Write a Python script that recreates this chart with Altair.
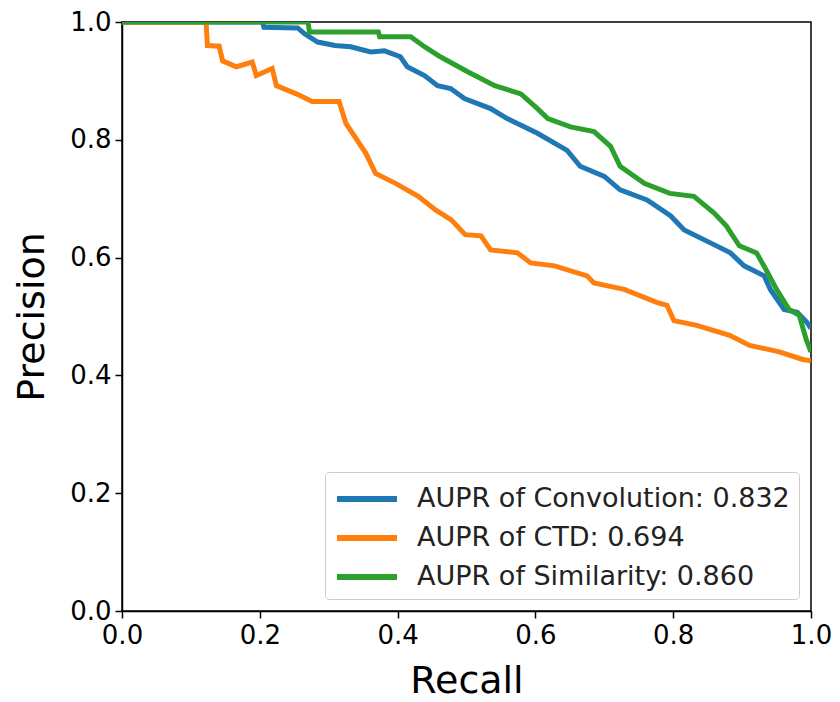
import altair as alt
import pandas as pd

# ---- data ----
series_labels = [
    "AUPR of Convolution: 0.832",
    "AUPR of CTD: 0.694",
    "AUPR of Similarity: 0.860",
]
series_colors = ["#1f77b4", "#ff7f0e", "#2ca02c"]

conv_recall = [0.0, 0.204, 0.206, 0.255, 0.265, 0.284, 0.309, 0.332, 0.361, 0.381,
               0.404, 0.414, 0.439, 0.458, 0.477, 0.497, 0.535, 0.559, 0.603, 0.646,
               0.665, 0.70, 0.723, 0.762, 0.796, 0.816, 0.854, 0.883, 0.903, 0.932,
               0.941, 0.961, 0.980, 0.994, 1.0]
conv_precision = [1.0, 1.0, 0.991, 0.99, 0.98, 0.966, 0.96, 0.958, 0.949, 0.951,
                  0.941, 0.924, 0.909, 0.892, 0.887, 0.870, 0.853, 0.836, 0.811, 0.782,
                  0.755, 0.738, 0.715, 0.698, 0.671, 0.647, 0.625, 0.608, 0.586, 0.569,
                  0.546, 0.512, 0.507, 0.49, 0.48]

ctd_recall = [0.0, 0.122, 0.124, 0.141, 0.146, 0.166, 0.189, 0.195, 0.218, 0.224,
              0.253, 0.276, 0.315, 0.325, 0.354, 0.368, 0.397, 0.43, 0.455, 0.478,
              0.498, 0.521, 0.535, 0.574, 0.593, 0.628, 0.675, 0.685, 0.729, 0.776,
              0.791, 0.801, 0.834, 0.882, 0.911, 0.954, 0.988, 1.0]
ctd_precision = [1.0, 1.0, 0.96, 0.959, 0.934, 0.924, 0.932, 0.909, 0.921, 0.892,
                 0.878, 0.865, 0.865, 0.828, 0.777, 0.743, 0.726, 0.704, 0.681, 0.664,
                 0.639, 0.637, 0.613, 0.608, 0.591, 0.586, 0.569, 0.557, 0.546, 0.524,
                 0.519, 0.493, 0.485, 0.468, 0.451, 0.44, 0.427, 0.425]

sim_recall = [0.0, 0.27, 0.272, 0.372, 0.374, 0.419, 0.439, 0.462, 0.501, 0.541,
              0.579, 0.603, 0.618, 0.651, 0.685, 0.709, 0.723, 0.758, 0.795, 0.83,
              0.859, 0.877, 0.896, 0.921, 0.935, 0.95, 0.968, 0.983, 0.993, 1.0]
sim_precision = [1.0, 1.0, 0.983, 0.983, 0.975, 0.975, 0.958, 0.941, 0.916, 0.892,
                 0.878, 0.853, 0.836, 0.822, 0.814, 0.789, 0.755, 0.726, 0.709, 0.704,
                 0.676, 0.654, 0.62, 0.608, 0.579, 0.546, 0.512, 0.502, 0.461, 0.44]

x_ticks = [0.0, 0.2, 0.4, 0.6, 0.8, 1.0]
y_ticks = [0.0, 0.2, 0.4, 0.6, 0.8, 1.0]

rows = []
for lab, rec, pre in zip(series_labels,
                         [conv_recall, ctd_recall, sim_recall],
                         [conv_precision, ctd_precision, sim_precision]):
    for i, (r, p) in enumerate(zip(rec, pre)):
        rows.append({"series": lab, "recall": r, "precision": p, "idx": i})
df = pd.DataFrame(rows)

FONT = "DejaVu Sans"

chart = alt.Chart(df).mark_line(strokeWidth=5, clip=True).encode(
    x=alt.X("recall:Q",
            scale=alt.Scale(domain=[0, 1], nice=False, zero=False),
            axis=alt.Axis(title="Recall", values=x_ticks, format=".1f",
                          labelFlush=False)),
    y=alt.Y("precision:Q",
            scale=alt.Scale(domain=[0, 1], nice=False, zero=False),
            axis=alt.Axis(title="Precision", values=y_ticks, format=".1f",
                          labelFlush=False)),
    color=alt.Color("series:N",
                    scale=alt.Scale(domain=series_labels, range=series_colors),
                    legend=alt.Legend(title=None, orient="bottom-right", offset=12,
                                      symbolType="M-1,0H3", symbolSize=900,
                                      symbolStrokeWidth=6, labelFontSize=27,
                                      labelFont=FONT, labelColor="#222",
                                      labelOffset=47, rowPadding=8,
                                      fillColor="white", strokeColor="#cccccc",
                                      cornerRadius=4, padding=9, labelLimit=500)),
    order="idx:Q",
).properties(
    width=689,
    height=589,
    autosize=alt.AutoSizeParams(type="none"),
    padding={"left": 114, "top": 14, "right": 21, "bottom": 90},
).configure_view(
    stroke="black", strokeWidth=1.5
).configure_axis(
    grid=False,
    domainColor="black", domainWidth=1.5,
    tickColor="black", tickWidth=1.5, tickSize=7,
    labelFont=FONT, labelFontSize=26, labelColor="black", labelPadding=4,
    titleFont=FONT, titleFontSize=38, titleFontWeight="normal", titleColor="black",
).configure_axisX(
    titlePadding=14
).configure_axisY(
    titlePadding=18
)

chart.save("out.html", embed_options={"renderer": "svg", "actions": False})
